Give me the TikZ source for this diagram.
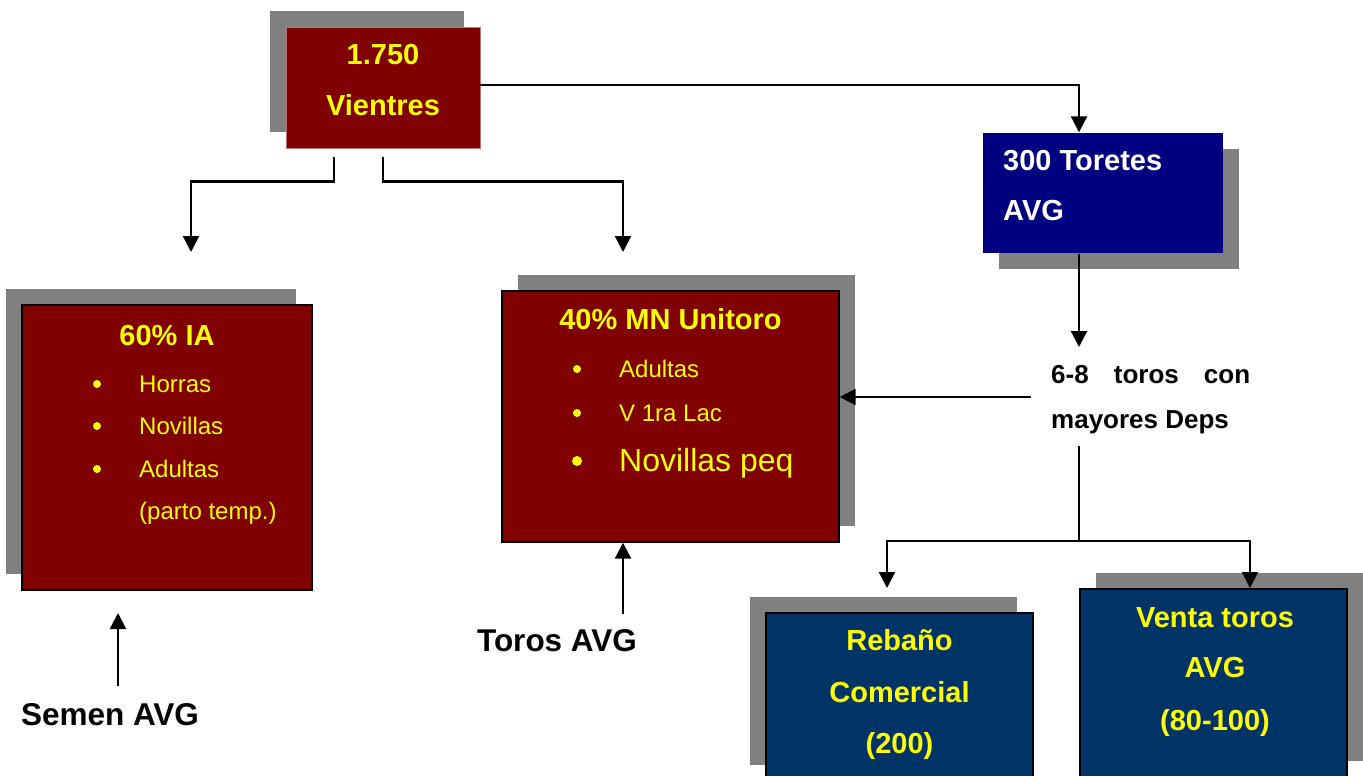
\documentclass[tikz,border=0pt]{standalone}
\usepackage{fontspec}
\setmainfont{Liberation Sans}
\usetikzlibrary{arrows.meta,shadows}

\definecolor{boxred}{HTML}{800000}
\definecolor{boxnavy}{HTML}{000080}
\definecolor{boxblue}{HTML}{003366}
\definecolor{boxyellow}{HTML}{FFFF00}
\definecolor{shadowgray}{HTML}{808080}
\newcommand{\fsz}[1]{\fontsize{#1}{#1}\selectfont}

\begin{document}
\begin{tikzpicture}[x=1pt,y=-1pt,
  arr/.style={line width=2.2pt,-{Triangle[width=16pt,length=16pt]}},
  link/.style={line width=2.2pt},
  box/.style={rectangle,inner sep=0pt,line width=1.4pt},
  shul/.style={drop shadow={shadow xshift=-16pt,shadow yshift=16pt,fill=shadowgray,opacity=1}},
  shur/.style={drop shadow={shadow xshift=16pt,shadow yshift=16pt,fill=shadowgray,opacity=1}},
  shdr/.style={drop shadow={shadow xshift=16pt,shadow yshift=-16pt,fill=shadowgray,opacity=1}},
  title/.style={inner sep=0pt,anchor=base,text=boxyellow,font=\fsz{29}\bfseries},
  item/.style={inner sep=0pt,anchor=base west,text=boxyellow,font=\fsz{24}},
  dot/.style={circle,inner sep=0pt,fill=boxyellow,minimum size=8pt},
  label/.style={inner sep=0pt,anchor=base,font=\fsz{31.5}\bfseries}]
  \useasboundingbox (0,0) rectangle (1363,776);

  % boxes
  \node[box,fill=boxred,draw=boxred!55!white,line width=0.8pt,shul,
    minimum width=194pt,minimum height=121pt] (vientres) at (383,87.5) {};
  \node[box,fill=boxred,draw=black,shul,
    minimum width=290pt,minimum height=285pt] (ia) at (167,447.5) {};
  \node[box,fill=boxred,draw=black,shur,
    minimum width=337pt,minimum height=251pt] (mn) at (670.5,416.5) {};
  \node[box,fill=boxnavy,shdr,
    minimum width=240pt,minimum height=120pt] (toretes) at (1103,193) {};
  \node[box,fill=boxblue,draw=black,shul,
    minimum width=267pt,minimum height=168pt] (rebano) at (899.5,697) {};
  \node[box,fill=boxblue,draw=black,shur,
    minimum width=267pt,minimum height=188pt] (venta) at (1213.5,683) {};

  % texts
  \node[title] (vientres1) at (383,65) {1.750};
  \node[title] (vientres2) at (383,115) {Vientres};
  \node[title] (iatitle) at (167,345) {60\% IA};
  \foreach \y/\t [count=\i] in {392/Horras,434/Novillas,477/Adultas} {
    \node[dot] (iab\i) at (97,\y-8) {};
    \node[item] (iai\i) at (139,\y) {\t};
  }
  \node[item] (iai4) at (139,519) {(parto temp.)};
  \node[title] (mntitle) at (670.5,329) {40\% MN Unitoro};
  \foreach \y/\t [count=\i] in {377/Adultas,421/V 1ra Lac} {
    \node[dot] (mnb\i) at (577,\y-8) {};
    \node[item] (mni\i) at (619,\y) {\t};
  }
  \node[dot,minimum size=10pt] (mnb3) at (577,461) {};
  \node[item,font=\fsz{32}] (mni3) at (619,471) {Novillas peq};
  \node[title,anchor=base west,text=white] (toretes1) at (1003,170) {300 Toretes};
  \node[title,anchor=base west,text=white] (toretes2) at (1003,220) {AVG};
  \node[inner sep=0pt,anchor=base west,font=\fsz{26}\bfseries] (deps1) at (1051,383)
    {\hbox to 199pt{6-8\hfill toros\hfill con}};
  \node[inner sep=0pt,anchor=base west,font=\fsz{26}\bfseries] (deps2) at (1051,428) {mayores Deps};
  \node[title] (rebano1) at (899.5,650) {Rebaño};
  \node[title] (rebano2) at (899.5,702) {Comercial};
  \node[title] (rebano3) at (899.5,753) {(200)};
  \node[title] (venta1) at (1215,627) {Venta toros};
  \node[title] (venta2) at (1215,677) {AVG};
  \node[title] (venta3) at (1215,730) {(80-100)};
  \node[label] (semen) at (110,725) {Semen AVG};
  \node[label] (toros) at (557,651) {Toros AVG};

  % free ends
  \coordinate (iain) at (191,252);
  \coordinate (mnin) at (623,252);
  \coordinate (depsin) at (1079,347);
  \coordinate (depsout) at (1031,397);
  \coordinate (splittop) at (1079,446);
  \coordinate (split) at (1079,541);
  \coordinate (rebanoin) at (887,588);
  \coordinate (ventain) at (1250,588);
  \coordinate (semenin) at (118,613);

  % connectors
  \draw[arr] ([yshift=2.5pt]vientres.east) -| ([xshift=-24pt]toretes.north);
  \draw[arr] ([xshift=-49pt,yshift=-9pt]vientres.south) -- ++(0,24) -| (iain);
  \draw[arr] ([yshift=-9pt]vientres.south) -- ++(0,24) -| (mnin);
  \draw[arr] ([xshift=-24pt]toretes.south) -- (depsin);
  \draw[arr] (depsout) -- (depsout -| mn.east);
  \draw[link] (splittop) -- (split);
  \draw[arr] (split) -| (rebanoin);
  \draw[arr] (split) -| (ventain);
  \draw[arr] ([xshift=8pt,yshift=17pt]semen.north) -- (semenin);
  \draw[arr] ([xshift=66pt,yshift=15pt]toros.north) -- ([xshift=66pt]toros.north |- mn.south);
\end{tikzpicture}
\end{document}
